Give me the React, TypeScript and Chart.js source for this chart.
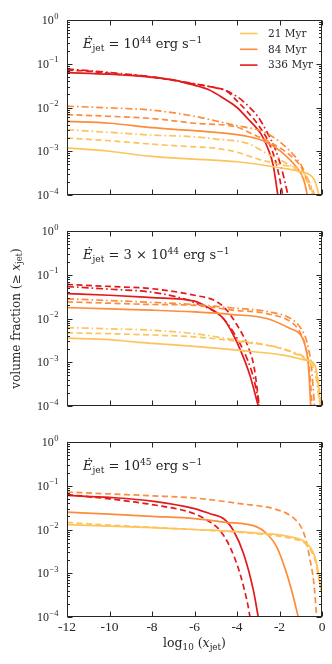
import React, { useEffect, useRef } from 'react';
import { Chart, registerables } from 'chart.js';

Chart.register(...registerables);

type Pt = [number, number];

// ---------- labels ----------
const AGES = ['21 Myr', '84 Myr', '336 Myr'];
const COLORS = ['#fec45c', '#fd8d3c', '#e31a1c'];
const X_TICKS = [-12, -10, -8, -6, -4, -2, 0];
const Y_TICKS = [1e-4, 1e-3, 1e-2, 1e-1, 1];
const Y_TICK_EXP = ['−4', '−3', '−2', '−1', '0'];
const ANNOT_COEF = ['', '3 × ', ''];
const ANNOT_EXP = ['44', '44', '45'];

// ---------- panel 1 : 1e44 erg/s ----------
const p1_21_solid: Pt[] = [[-12, 1.2e-3], [-10, 1.0e-3], [-8, 7.6e-4], [-6, 6.6e-4], [-4, 5.75e-4], [-2, 4.2e-4], [-1, 3.4e-4], [-0.4, 2.4e-4], [-0.25, 1.58e-4], [-0.15, 1e-4]];
const p1_21_dash: Pt[] = [[-12, 2.0e-3], [-10, 1.74e-3], [-8, 1.45e-3], [-6, 1.26e-3], [-5, 1.17e-3], [-4, 9.5e-4], [-3, 6.6e-4], [-2, 5.0e-4], [-1, 3.7e-4], [-0.7, 2.5e-4], [-0.4, 1e-4]];
const p1_21_dashdot: Pt[] = [[-12, 3.1e-3], [-10, 2.7e-3], [-8, 2.34e-3], [-6, 2.14e-3], [-5, 1.9e-3], [-3.5, 1.51e-3], [-2.6, 8.9e-4], [-1.4, 4.4e-4], [-0.8, 2.4e-4], [-0.35, 1e-4]];
const p1_84_solid: Pt[] = [[-12, 4.8e-3], [-10, 4.37e-3], [-8, 3.47e-3], [-6, 2.95e-3], [-4, 2.4e-3], [-3, 1.9e-3], [-2.6, 1.58e-3], [-2, 1.05e-3], [-1.5, 6.3e-4], [-1, 3.16e-4], [-0.8, 1.78e-4], [-0.7, 1e-4]];
const p1_84_dash: Pt[] = [[-12, 6.9e-3], [-10, 6.3e-3], [-8, 5.6e-3], [-6, 4.37e-3], [-4, 3.55e-3], [-3.3, 2.5e-3], [-2.5, 1.66e-3], [-1.5, 8.1e-4], [-1, 4.5e-4], [-0.7, 2.2e-4], [-0.45, 1e-4]];
const p1_84_dashdot: Pt[] = [[-12, 1.07e-2], [-10, 9.8e-3], [-8, 8.7e-3], [-6, 6.3e-3], [-4.2, 4.0e-3], [-2.6, 2.57e-3], [-1.5, 1.0e-3], [-1, 5.0e-4], [-0.6, 2.0e-4], [-0.35, 1e-4]];
const p1_336_solid: Pt[] = [[-12, 6.3e-2], [-10, 5.75e-2], [-8, 4.9e-2], [-7, 4.27e-2], [-6.2, 3.39e-2], [-5.3, 2.51e-2], [-4.6, 1.58e-2], [-4, 1.0e-2], [-3.5, 5.6e-3], [-2.85, 2.4e-3], [-2.55, 1.17e-3], [-2.3, 4.9e-4], [-2.08, 1e-4]];
const p1_336_dash: Pt[] = [[-12, 7.1e-2], [-11, 6.8e-2], [-10, 6.0e-2], [-8, 5.0e-2], [-6.2, 3.55e-2], [-5, 2.82e-2], [-4.5, 2.4e-2], [-4, 1.41e-2], [-3.5, 7.9e-3], [-3, 4.0e-3], [-2.5, 1.58e-3], [-2.2, 6.3e-4], [-2, 2.5e-4], [-1.85, 1e-4]];
const p1_336_dashdot: Pt[] = [[-12, 7.6e-2], [-10, 6.3e-2], [-8, 5.0e-2], [-6.2, 3.63e-2], [-5, 2.82e-2], [-4.5, 2.4e-2], [-4, 1.78e-2], [-3.5, 1.12e-2], [-3, 6.0e-3], [-2.6, 2.8e-3], [-2.2, 1.12e-3], [-1.9, 4.0e-4], [-1.6, 1e-4]];

// ---------- panel 2 : 3e44 erg/s ----------
const p2_21_solid: Pt[] = [[-12, 3.55e-3], [-10, 3.3e-3], [-9, 2.95e-3], [-8, 2.7e-3], [-6, 2.3e-3], [-3.86, 1.86e-3], [-1.82, 1.45e-3], [-0.72, 1.1e-3], [-0.33, 8.5e-4], [-0.17, 2.95e-4], [-0.08, 1e-4]];
const p2_21_dash: Pt[] = [[-12, 4.7e-3], [-10, 4.5e-3], [-8, 4.2e-3], [-6, 3.8e-3], [-4, 3.0e-3], [-2, 2.1e-3], [-0.8, 1.2e-3], [-0.35, 7.9e-4], [-0.15, 3.2e-4], [-0.05, 1e-4]];
const p2_21_dashdot: Pt[] = [[-12, 6.2e-3], [-10, 5.8e-3], [-8, 5.4e-3], [-6, 4.5e-3], [-4, 3.2e-3], [-3, 2.7e-3], [-1.5, 1.8e-3], [-0.6, 1.0e-3], [-0.3, 5.0e-4], [-0.1, 1e-4]];
const p2_84_solid: Pt[] = [[-12, 1.78e-2], [-10, 1.66e-2], [-8, 1.55e-2], [-6, 1.41e-2], [-4.2, 1.23e-2], [-2.6, 1.0e-2], [-1.5, 5.9e-3], [-1, 4.2e-3], [-0.8, 2.45e-3], [-0.64, 8.5e-4], [-0.53, 1e-4]];
const p2_84_dash: Pt[] = [[-12, 2.4e-2], [-10, 2.24e-2], [-8, 2.09e-2], [-6, 2.0e-2], [-4.2, 1.55e-2], [-2.6, 1.29e-2], [-1.36, 7.6e-3], [-1, 4.5e-3], [-0.7, 1.58e-3], [-0.55, 4.0e-4], [-0.47, 1e-4]];
const p2_84_dashdot: Pt[] = [[-12, 2.82e-2], [-10, 2.57e-2], [-8, 2.34e-2], [-6, 2.09e-2], [-4.2, 1.74e-2], [-2.6, 1.45e-2], [-1.4, 9.5e-3], [-1, 6.0e-3], [-0.7, 2.8e-3], [-0.5, 7.9e-4], [-0.35, 1e-4]];
const p2_336_solid: Pt[] = [[-12, 3.7e-2], [-10, 3.4e-2], [-8, 3.0e-2], [-6, 2.5e-2], [-5.4, 1.82e-2], [-4.64, 1.0e-2], [-4.17, 4.2e-3], [-3.86, 2.0e-3], [-3.39, 5.0e-4], [-3.0, 1e-4]];
const p2_336_dash: Pt[] = [[-12, 6.0e-2], [-10, 5.4e-2], [-8, 4.8e-2], [-6, 3.4e-2], [-5, 2.5e-2], [-4.5, 1.58e-2], [-4, 7.1e-3], [-3.5, 2.4e-3], [-3.2, 7.9e-4], [-2.95, 1e-4]];
const p2_336_dashdot: Pt[] = [[-12, 5.37e-2], [-10, 4.68e-2], [-8, 3.98e-2], [-6.5, 2.82e-2], [-5.7, 2.0e-2], [-5, 1.41e-2], [-4.5, 8.3e-3], [-4, 3.55e-3], [-3.5, 1.12e-3], [-3.2, 4.0e-4], [-2.95, 1e-4]];

// ---------- panel 3 : 1e45 erg/s ----------
const p3_21_solid: Pt[] = [[-12, 1.29e-2], [-10, 1.2e-2], [-8, 1.1e-2], [-6, 1.0e-2], [-3.07, 8.3e-3], [-1.5, 6.8e-3], [-0.72, 4.8e-3], [-0.33, 2.34e-3], [-0.17, 1.0e-3], [-0.05, 4.0e-4]];
const p3_21_dash: Pt[] = [[-12, 1.45e-2], [-10, 1.26e-2], [-8, 1.12e-2], [-6, 1.0e-2], [-3, 7.9e-3], [-1.5, 6.3e-3], [-0.72, 4.4e-3], [-0.33, 2.0e-3], [-0.15, 7.9e-4], [-0.05, 4.5e-4]];
const p3_84_solid: Pt[] = [[-12, 2.5e-2], [-10, 2.24e-2], [-8, 2.0e-2], [-6, 1.78e-2], [-4.64, 1.48e-2], [-3.07, 1.15e-2], [-2.6, 8.1e-3], [-2.13, 4.0e-3], [-1.66, 9.8e-4], [-1.35, 2.9e-4], [-1.12, 1e-4]];
const p3_84_dash: Pt[] = [[-12, 7.2e-2], [-10, 6.5e-2], [-8, 5.9e-2], [-6, 5.25e-2], [-3.86, 3.9e-2], [-2.29, 3.0e-2], [-1.5, 2.09e-2], [-1.04, 1.26e-2], [-0.8, 6.8e-3], [-0.56, 2.0e-3], [-0.38, 5.8e-4], [-0.25, 1e-4]];
const p3_336_solid: Pt[] = [[-12, 6.0e-2], [-10, 5.4e-2], [-8, 4.47e-2], [-6, 3.0e-2], [-5.27, 2.29e-2], [-4.64, 1.78e-2], [-4.17, 9.5e-3], [-3.69, 2.8e-3], [-3.23, 4.1e-4], [-3.0, 1e-4]];
const p3_336_dash: Pt[] = [[-12, 6.3e-2], [-10, 5.0e-2], [-9, 4.37e-2], [-8, 3.72e-2], [-6, 2.29e-2], [-5.27, 1.48e-2], [-4.8, 9.5e-3], [-4.33, 4.0e-3], [-3.86, 9.8e-4], [-3.47, 1.7e-4], [-3.39, 1e-4]];

type Style = 'solid' | 'dash' | 'dashdot';
type Series = { age: number; style: Style; data: Pt[] };

const PANEL1: Series[] = [
  { age: 0, style: 'solid', data: p1_21_solid },
  { age: 0, style: 'dash', data: p1_21_dash },
  { age: 0, style: 'dashdot', data: p1_21_dashdot },
  { age: 1, style: 'solid', data: p1_84_solid },
  { age: 1, style: 'dash', data: p1_84_dash },
  { age: 1, style: 'dashdot', data: p1_84_dashdot },
  { age: 2, style: 'solid', data: p1_336_solid },
  { age: 2, style: 'dash', data: p1_336_dash },
  { age: 2, style: 'dashdot', data: p1_336_dashdot },
];
const PANEL2: Series[] = [
  { age: 0, style: 'solid', data: p2_21_solid },
  { age: 0, style: 'dash', data: p2_21_dash },
  { age: 0, style: 'dashdot', data: p2_21_dashdot },
  { age: 1, style: 'solid', data: p2_84_solid },
  { age: 1, style: 'dash', data: p2_84_dash },
  { age: 1, style: 'dashdot', data: p2_84_dashdot },
  { age: 2, style: 'solid', data: p2_336_solid },
  { age: 2, style: 'dash', data: p2_336_dash },
  { age: 2, style: 'dashdot', data: p2_336_dashdot },
];
const PANEL3: Series[] = [
  { age: 0, style: 'solid', data: p3_21_solid },
  { age: 0, style: 'dash', data: p3_21_dash },
  { age: 1, style: 'solid', data: p3_84_solid },
  { age: 1, style: 'dash', data: p3_84_dash },
  { age: 2, style: 'solid', data: p3_336_solid },
  { age: 2, style: 'dash', data: p3_336_dash },
];

// ---------- layout / style ----------
const W = 332;
const TICK_FONT = '"Liberation Serif", "DejaVu Serif", serif';
const TEXT_FONT = '"DejaVu Serif", "Liberation Serif", serif';
const INK = '#262626';
const DASH: Record<Style, number[]> = { solid: [], dash: [6, 3.5], dashdot: [7, 3, 1.6, 3] };

type PanelCfg = { top: number; h: number; pt: number; xh: number; series: Series[]; legend: boolean; ylab: boolean; xlab: boolean };
const PANELS: PanelCfg[] = [
  { top: 0, h: 210, pt: 20, xh: 15, series: PANEL1, legend: true, ylab: false, xlab: false },
  { top: 210, h: 210, pt: 21, xh: 14, series: PANEL2, legend: false, ylab: true, xlab: false },
  { top: 420, h: 244, pt: 22, xh: 47, series: PANEL3, legend: false, ylab: false, xlab: true },
];

type Seg = { t: string; it?: boolean; pos?: 'sub' | 'sup' };

function drawRich(ctx: CanvasRenderingContext2D, segs: Seg[], x: number, y: number, size: number, align: 'left' | 'center' | 'right') {
  const fontFor = (s: Seg) => `${s.it ? 'italic ' : ''}${s.pos ? (size * 0.7).toFixed(1) : size}px ${TEXT_FONT}`;
  let w = 0;
  for (const s of segs) { ctx.font = fontFor(s); w += ctx.measureText(s.t).width; }
  let cx = align === 'left' ? x : align === 'center' ? x - w / 2 : x - w;
  ctx.textAlign = 'left';
  ctx.textBaseline = 'alphabetic';
  for (const s of segs) {
    ctx.font = fontFor(s);
    const dy = s.pos === 'sup' ? -size * 0.4 : s.pos === 'sub' ? size * 0.22 : 0;
    ctx.fillText(s.t, cx, y + dy);
    cx += ctx.measureText(s.t).width;
  }
}

function makeDecor(idx: number) {
  const cfg = PANELS[idx];
  return {
    id: 'decor' + idx,
    afterDatasetsDraw(chart: any) {
      const { ctx, chartArea: a, scales } = chart;
      const xs = scales.x, ys = scales.y;
      const L = Math.round(a.left) + 0.5, R = Math.round(a.right) - 0.5;
      const T = Math.round(a.top) + 0.5, B = Math.round(a.bottom) - 0.5;
      ctx.save();
      ctx.strokeStyle = INK;
      ctx.lineWidth = 1;
      ctx.setLineDash([]);
      ctx.strokeRect(L, T, R - L, B - T);
      ctx.beginPath();
      Y_TICKS.forEach((v, i) => {
        const y = Math.round(ys.getPixelForValue(v)) + 0.5;
        ctx.moveTo(L, y); ctx.lineTo(L + 5, y);
        ctx.moveTo(R, y); ctx.lineTo(R - 5, y);
        if (i < Y_TICKS.length - 1) {
          for (let m = 2; m <= 9; m++) {
            const ym = Math.round(ys.getPixelForValue(v * m)) + 0.5;
            ctx.moveTo(L, ym); ctx.lineTo(L + 2.5, ym);
            ctx.moveTo(R, ym); ctx.lineTo(R - 2.5, ym);
          }
        }
      });
      X_TICKS.forEach((v) => {
        const x = Math.round(xs.getPixelForValue(v)) + 0.5;
        ctx.moveTo(x, B); ctx.lineTo(x, B - 5);
        ctx.moveTo(x, T); ctx.lineTo(x, T + 5);
      });
      ctx.stroke();

      ctx.fillStyle = INK;
      Y_TICKS.forEach((v, i) => {
        const y = ys.getPixelForValue(v);
        const right = a.left - 8.5;
        ctx.textBaseline = 'alphabetic';
        ctx.textAlign = 'left';
        ctx.font = `8.5px ${TICK_FONT}`;
        const ws = ctx.measureText(Y_TICK_EXP[i]).width;
        ctx.fillText(Y_TICK_EXP[i], right - ws, y - 1.5);
        ctx.font = `12px ${TICK_FONT}`;
        const wb = ctx.measureText('10').width;
        ctx.fillText('10', right - ws - wb - 0.5, y + 4);
      });

      drawRich(ctx, [
        { t: 'Ė', it: true }, { t: 'jet', pos: 'sub' }, { t: ' = ' + ANNOT_COEF[idx] + '10' }, { t: ANNOT_EXP[idx], pos: 'sup' },
        { t: ' erg s' }, { t: '−1', pos: 'sup' },
      ], a.left + 16, a.top + 28, 13, 'left');

      if (cfg.legend) {
        AGES.forEach((lab, i) => {
          const y = a.top + 13.5 + i * 15.8;
          ctx.strokeStyle = COLORS[i];
          ctx.lineWidth = 1.6;
          ctx.beginPath(); ctx.moveTo(240, y); ctx.lineTo(257.5, y); ctx.stroke();
          ctx.fillStyle = INK;
          ctx.font = `10.5px ${TEXT_FONT}`;
          ctx.textAlign = 'left';
          ctx.textBaseline = 'middle';
          ctx.fillText(lab, 268, y + 0.5);
        });
      }

      ctx.fillStyle = INK;
      if (cfg.ylab) {
        ctx.save();
        ctx.translate(19.5, (a.top + a.bottom) / 2);
        ctx.rotate(-Math.PI / 2);
        drawRich(ctx, [{ t: 'volume fraction (≥ ' }, { t: 'x', it: true }, { t: 'jet', pos: 'sub' }, { t: ')' }], 0, 0, 12, 'center');
        ctx.restore();
      }
      if (cfg.xlab) {
        drawRich(ctx, [{ t: 'log' }, { t: '10', pos: 'sub' }, { t: ' (' }, { t: 'x', it: true }, { t: 'jet', pos: 'sub' }, { t: ')' }],
          (a.left + a.right) / 2, a.bottom + 30, 12.5, 'center');
      }
      ctx.restore();
    },
  };
}

function buildConfig(idx: number): any {
  const cfg = PANELS[idx];
  return {
    type: 'line',
    data: {
      datasets: cfg.series.map((s) => ({
        label: AGES[s.age],
        data: s.data.map(([x, y]) => ({ x, y })),
        borderColor: COLORS[s.age],
        borderWidth: 1.7,
        borderDash: DASH[s.style],
        pointRadius: 0,
        fill: false,
        cubicInterpolationMode: 'monotone',
      })),
    },
    options: {
      animation: false,
      responsive: false,
      maintainAspectRatio: false,
      events: [],
      layout: { padding: { top: cfg.pt, right: 10, left: 0, bottom: 0 } },
      plugins: { legend: { display: false }, tooltip: { enabled: false } },
      scales: {
        x: {
          type: 'linear', min: -12, max: 0,
          grid: { display: false, drawTicks: false }, border: { display: false },
          ticks: { display: cfg.xlab, stepSize: 2, padding: 2, color: INK, font: { family: TICK_FONT, size: 13.5 } },
          afterFit: (s: any) => { s.height = cfg.xh; },
        },
        y: {
          type: 'logarithmic', min: 1e-4, max: 1,
          grid: { display: false, drawTicks: false }, border: { display: false },
          ticks: { display: false },
          afterFit: (s: any) => { s.width = 67; },
        },
      },
    },
    plugins: [makeDecor(idx)],
  };
}

function Panel({ idx }: { idx: number }) {
  const ref = useRef<HTMLCanvasElement>(null);
  const cfg = PANELS[idx];
  useEffect(() => {
    const chart = new Chart(ref.current as HTMLCanvasElement, buildConfig(idx));
    return () => chart.destroy();
  }, [idx]);
  return (
    <canvas
      ref={ref}
      width={W}
      height={cfg.h}
      style={{ position: 'absolute', left: 0, top: cfg.top, width: W, height: cfg.h, display: 'block' }}
    />
  );
}

export default function App() {
  return (
    <div style={{ position: 'fixed', left: 0, top: 0, width: W, height: 664, background: '#fff' }}>
      {PANELS.map((_, i) => <Panel key={i} idx={i} />)}
    </div>
  );
}
